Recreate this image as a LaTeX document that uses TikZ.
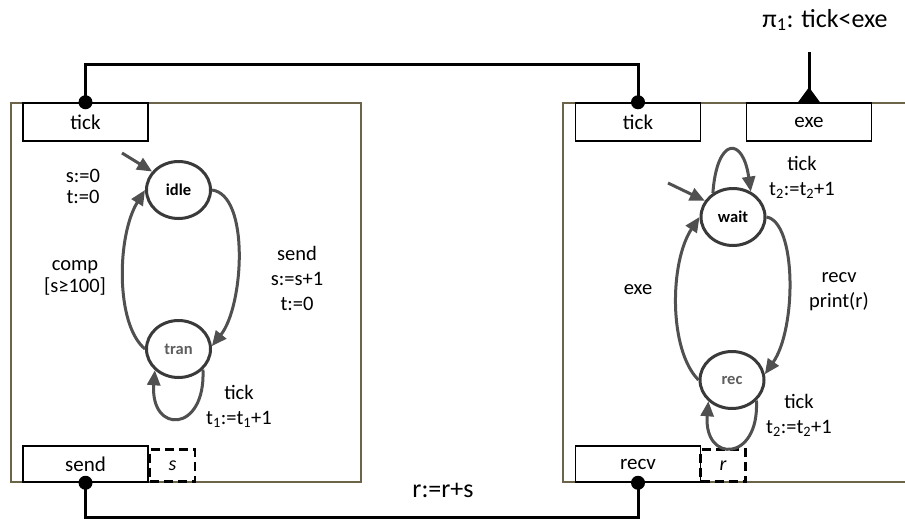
\documentclass[tikz,border=0pt]{standalone}
\usepackage{fontspec}
\setmainfont{Carlito}
\usetikzlibrary{arrows.meta,shapes.geometric}
\definecolor{stc}{HTML}{3A3A3A}
\definecolor{arcc}{HTML}{505050}
\definecolor{ctn}{HTML}{6B6448}
\definecolor{dimtxt}{HTML}{5E5E5E}
\begin{document}
\begin{tikzpicture}[x=1pt,y=-1pt,
  lbl/.style={font=\fontsize{20.5}{25}\selectfont, align=center, inner sep=0pt},
  port/.style={draw=black, line width=1.5pt, fill=white, minimum width=125pt, minimum height=38pt, inner sep=0pt, font=\fontsize{21}{24}\selectfont},
  buf/.style={draw=black, line width=2.5pt, dash pattern=on 9pt off 5pt, minimum width=45pt, minimum height=32pt, inner sep=0pt, font=\fontsize{20}{24}\selectfont\itshape},
  state/.style={ellipse, draw=stc, line width=3pt, minimum width=64pt, minimum height=57pt, inner sep=0pt, font=\fontsize{16.5}{18}\selectfont\bfseries},
  trans/.style={draw=arcc, line width=3pt, -{Triangle[length=15pt,width=13pt]}},
  wire/.style={draw=black, line width=3pt},
  cont/.style={draw=ctn, line width=2pt}
]
\useasboundingbox (0,0) rectangle (905,520);
% containers
\draw[cont] (11,103) rectangle (361,482);
\draw[cont] (906,103) -- (563,103) -- (563,482) -- (906,482);
% ports
\node[port] (tickL) at (85.5,122) {tick};
\node[port, minimum height=36pt] (sendL) at (85.5,464) {send};
\node[buf] (sbuf) at (172.5,465.5) {s};
\node[port] (tickR) at (638,122) {tick};
\node[port] (exe) at (809,122) {exe};
\node[port, minimum height=36pt] (recvR) at (638,464) {recv};
\node[buf] (rbuf) at (723,465.5) {r};
% wires
\draw[wire] (tickL.north) -- ++(0,-38) -| (tickR.north);
\fill (tickL.north) circle (7pt);
\fill (tickR.north) circle (7pt);
\draw[wire] (sendL.south) -- ++(0,35) -| (recvR.south);
\fill (sendL.south) circle (7pt);
\fill (recvR.south) circle (7pt);
\coordinate (piin) at (809,52);
\draw[wire] (piin) -- ([yshift=10pt]exe.north);
\fill ([xshift=-11pt]exe.north) -- ([xshift=11pt]exe.north) -- ([yshift=15pt]exe.north) -- cycle;
\node[font=\fontsize{26}{28}\selectfont, inner sep=0pt] (pilbl) at (825,20) {π\textsubscript{1}: tick<exe};
\node[font=\fontsize{26}{28}\selectfont, inner sep=0pt] (rrs) at (443,490) {r:=r+s};
% left automaton
\node[state] (idle) at (178.5,190) {idle};
\node[state, text=dimtxt] (tran) at (178.5,349) {tran};
\coordinate (iniL) at (122,153);
\draw[trans] (iniL) -- (idle.145);
\draw[trans] (idle.0) .. controls +(38,5) and +(32,-40) .. (tran.5);
\draw[trans] (tran.180) .. controls +(-30,-25) and +(-28,45) .. (idle.180);
\draw[trans] (tran.-40) .. controls +(3,64) and +(-5,64) .. (tran.-138);
\node[lbl, font=\fontsize{20.5}{21}\selectfont] (l1) at (83,186) {s:=0\\t:=0};
\node[lbl, font=\fontsize{20.5}{22}\selectfont] (l2) at (75,278) {comp\\{}[s≥100]};
\node[lbl] (l3) at (297,278) {send\\s:=s+1\\t:=0};
\node[lbl] (l4) at (239,406) {tick\\t\textsubscript{1}:=t\textsubscript{1}+1};
% right automaton
\node[state] (wait) at (733,217) {wait};
\node[state, text=dimtxt] (rec) at (732,380) {rec};
\coordinate (iniR) at (668,183);
\draw[trans] (iniR) -- (wait.150);
\draw[trans] (wait.130) .. controls +(4,-56) and +(-8,-56) .. (wait.55);
\draw[trans] (rec.180) .. controls +(-30,-30) and +(-30,45) .. (wait.180);
\draw[trans] (wait.0) .. controls +(30,5) and +(32,-46) .. (rec.10);
\draw[trans] (rec.-40) .. controls +(3,62) and +(-5,62) .. (rec.-138);
\node[lbl] (r1) at (802,177) {tick\\t\textsubscript{2}:=t\textsubscript{2}+1};
\node[lbl] (r2) at (638,290) {exe};
\node[lbl] (r3) at (839,292) {recv\\print(r)};
\node[lbl] (r4) at (799,415) {tick\\t\textsubscript{2}:=t\textsubscript{2}+1};
\end{tikzpicture}
\end{document}
